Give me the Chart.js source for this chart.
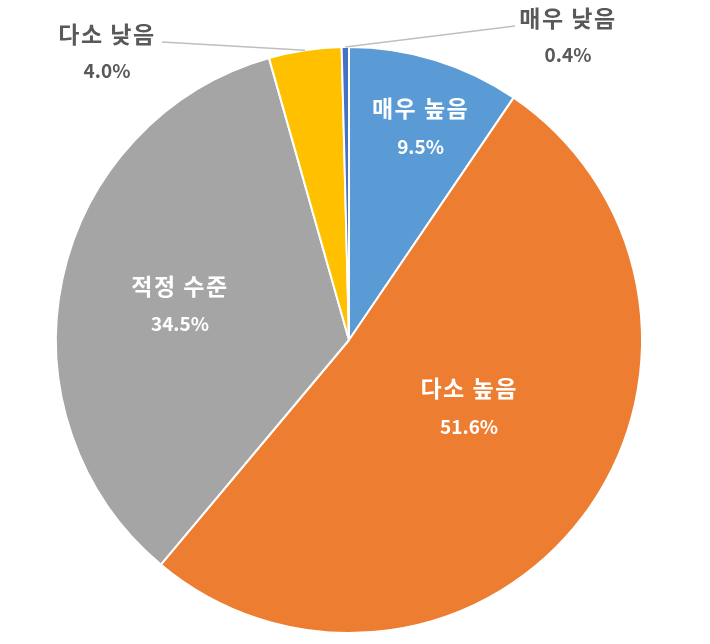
<!DOCTYPE html>
<html><head><meta charset="utf-8">
<script src="https://cdn.jsdelivr.net/npm/chart.js@4.4.0/dist/chart.umd.min.js"></script>
<style>html,body{margin:0;padding:0;background:#fff;}#wrap{width:710px;height:644px;}</style>
</head><body><div id="wrap"><canvas id="c"></canvas></div>
<script>
const categories = ['매우 높음', '다소 높음', '적정 수준', '다소 낮음', '매우 낮음'];
const values = [9.5, 51.6, 34.5, 4.0, 0.4];
const valueLabels = ['9.5%', '51.6%', '34.5%', '4.0%', '0.4%'];
const colors = ['#5B9BD5', '#ED7D31', '#A5A5A5', '#FFC000', '#4472C4'];

// label layout: inside labels placed by radial fraction; outside labels with leader line
const layout = [
  {inside: true, r: 0.766, dAng: 1.5},
  {inside: true, r: 0.47, dAng: -7.8},
  {inside: true, r: 0.589, dAng: -0.4},
  {inside: false, tx: 107, ty: 34, lx: 162, ly: 42},
  {inside: false, tx: 568, ty: 18, lx: 515, ly: 26}
];

const labelPlugin = {
  id: 'sliceLabels',
  afterDatasetsDraw(chart) {
    const ctx = chart.ctx;
    const meta = chart.getDatasetMeta(0);
    ctx.save();
    ctx.textAlign = 'center';
    ctx.textBaseline = 'middle';
    const catFont = 'bold 23px "Noto Sans CJK KR", sans-serif';
    const valFont = 'bold 19px "Noto Sans CJK KR", sans-serif';
    meta.data.forEach((arc, i) => {
      const p = arc.getProps(['x','y','startAngle','endAngle','outerRadius'], true);
      const mid = (p.startAngle + p.endAngle) / 2;
      const L = layout[i];
      if (L.inside) {
        const a = mid + L.dAng * Math.PI / 180;
        const cx = p.x + Math.cos(a) * p.outerRadius * L.r;
        const cy = p.y + Math.sin(a) * p.outerRadius * L.r;
        ctx.fillStyle = '#FFFFFF';
        ctx.font = catFont;
        ctx.letterSpacing = '1.5px';
        ctx.fillText(categories[i], cx, cy - 19);
        ctx.font = valFont;
        ctx.letterSpacing = '0px';
        ctx.fillText(valueLabels[i], cx, cy + 19);
      } else {
        const ex = p.x + Math.cos(mid) * p.outerRadius;
        const ey = p.y + Math.sin(mid) * p.outerRadius;
        ctx.strokeStyle = '#BFBFBF';
        ctx.lineWidth = 1.5;
        ctx.beginPath();
        ctx.moveTo(ex, ey);
        ctx.lineTo(L.lx, L.ly);
        ctx.stroke();
        ctx.fillStyle = '#595959';
        ctx.font = catFont;
        ctx.letterSpacing = '1.5px';
        ctx.fillText(categories[i], L.tx, L.ty);
        ctx.font = valFont;
        ctx.letterSpacing = '0px';
        ctx.fillText(valueLabels[i], L.tx, L.ty + 37);
      }
    });
    ctx.restore();
  }
};

new Chart(document.getElementById('c'), {
  type: 'pie',
  data: {
    labels: categories,
    datasets: [{
      data: values,
      backgroundColor: colors,
      borderColor: '#FFFFFF',
      borderWidth: 2
    }]
  },
  options: {
    responsive: true,
    maintainAspectRatio: false,
    animation: false,
    layout: {padding: {left: 55, right: 67, top: 46, bottom: 10}},
    plugins: {legend: {display: false}, tooltip: {enabled: false}}
  },
  plugins: [labelPlugin]
});
</script>
</body></html>
